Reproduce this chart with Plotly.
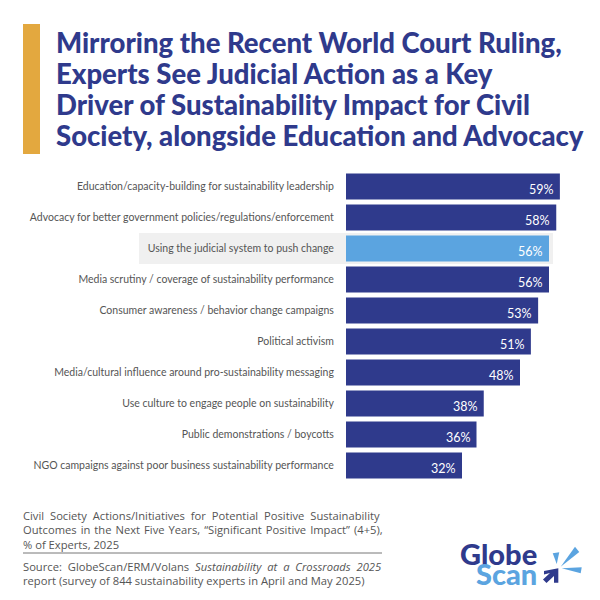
import plotly.graph_objects as go

# Valores
categories = [
    "Education/capacity-building for sustainability leadership",
    "Advocacy for better government policies/regulations/enforcement",
    "Using the judicial system to push change",
    "Media scrutiny / coverage of sustainability performance",
    "Consumer awareness / behavior change campaigns",
    "Political activism",
    "Media/cultural influence around pro-sustainability messaging",
    "Use culture to engage people on sustainability",
    "Public demonstrations / boycotts",
    "NGO campaigns against poor business sustainability performance",
]
values = [59, 58, 56, 56, 53, 51, 48, 38, 36, 32]
highlight = "Using the judicial system to push change"

title_lines = [
    "Mirroring the Recent World Court Ruling,",
    "Experts See Judicial Action as a Key",
    "Driver of Sustainability Impact for Civil",
    "Society, alongside Education and Advocacy",
]
# Espaços finos para imitar o texto justificado do original
note_lines = [
    "Civil Society Actions/Initiatives for Potential Positive Sustainability".replace(" ", " \u2009\u200a"),
    "Outcomes in the Next Five Years, “Significant Positive Impact” (4+5),".replace(" ", " \u200a"),
    "% of Experts, 2025",
]
source_lines = [
    "Source: GlobeScan/ERM/Volans <i>Sustainability at a Crossroads 2025</i>".replace(" ", " \u2009\u200a"),
    "report (survey of 844 sustainability experts in April and May 2025)",
]

NAVY = "#2F3A8C"
BLUE = "#5BA4E0"
GOLD = "#E3A83F"
GRAY = "#555555"

# A página tem margem de 8px no body, então a figura fica menor e deslocada
SIZE = 592
OFFSET = 8


# Converte pixels da imagem para coordenadas "paper"
def px(x):
    return (x - OFFSET) / SIZE


def py(y):
    return 1 - (y - OFFSET) / SIZE


def path(points):
    return "M " + " L ".join(f"{px(x):.4f},{py(y):.4f}" for x, y in points) + " Z"


fig = go.Figure()
fig.add_trace(go.Bar(
    x=values,
    y=categories,
    orientation="h",
    marker_color=[BLUE if c == highlight else NAVY for c in categories],
    marker_line_width=0,
    hoverinfo="skip",
))

fig.update_layout(
    width=SIZE,
    height=SIZE,
    margin=dict(l=0, r=0, t=0, b=0),
    paper_bgcolor="white",
    plot_bgcolor="rgba(0,0,0,0)",
    showlegend=False,
    bargap=0.16,
)
fig.update_xaxes(domain=[px(346), 1], range=[0, 254 / 3.625], visible=False)
fig.update_yaxes(
    domain=[py(481), py(171)],
    autorange="reversed",
    ticks="outside",
    ticklen=9,
    tickcolor="rgba(0,0,0,0)",
    showline=False,
    showgrid=False,
    tickfont=dict(family="Lato", size=10.5, color=GRAY),
)

# Faixa cinza atrás da linha destacada
row = categories.index(highlight)
fig.add_shape(type="rect", xref="paper", yref="y", x0=px(139), x1=px(553), y0=row - 0.5, y1=row + 0.5,
              fillcolor="#F0F0F0", line_width=0, layer="below")

# Barra dourada do título
fig.add_shape(type="rect", xref="paper", yref="paper", x0=px(23), x1=px(40), y0=py(154), y1=py(24),
              fillcolor=GOLD, line_width=0)

# Linha entre a nota e a fonte
fig.add_shape(type="line", xref="paper", yref="paper", x0=px(23), x1=px(382), y0=py(553), y1=py(553),
              line=dict(color="#777777", width=1))

# Rótulos de valor
for c, v in zip(categories, values):
    fig.add_annotation(x=v, y=c, text=f"{v}%", showarrow=False, xanchor="right", xshift=-4, yshift=-3,
                       font=dict(family="Lato", size=12.5, color="white"))

for i, line in enumerate(title_lines):
    fig.add_annotation(xref="paper", yref="paper", x=px(54), y=py(42 + i * 31.3), text=line, showarrow=False,
                       xanchor="left", yanchor="middle",
                       font=dict(family="Lato", size=27.5, color=NAVY, weight=900))

for i, line in enumerate(note_lines):
    fig.add_annotation(xref="paper", yref="paper", x=px(21), y=py(515 + i * 14.5), text=line, showarrow=False,
                       xanchor="left", yanchor="middle",
                       font=dict(family="Open Sans", size=11.2, color=GRAY))

for i, line in enumerate(source_lines):
    fig.add_annotation(xref="paper", yref="paper", x=px(21), y=py(566 + i * 14.5), text=line, showarrow=False,
                       xanchor="left", yanchor="middle",
                       font=dict(family="Open Sans", size=11.2, color=GRAY))

# Logo
fig.add_annotation(xref="paper", yref="paper", x=px(539), y=py(553), text="Globe", showarrow=False,
                   xanchor="right", yanchor="middle", font=dict(family="Lato", size=29, color=NAVY, weight=900))
fig.add_annotation(xref="paper", yref="paper", x=px(539), y=py(573), text="Scan", showarrow=False,
                   xanchor="right", yanchor="middle", font=dict(family="Lato", size=29, color=BLUE, weight=900))
for pts, color in [
    ([(552.7, 553.3), (559.3, 552.3), (556.7, 564)], BLUE),
    ([(575, 546.7), (579.3, 552), (560.7, 566.7)], BLUE),
    ([(561.7, 568.3), (581.7, 567.3), (580.7, 573.3)], BLUE),
    ([(544, 571), (558.3, 568.3), (558.3, 582.7), (554, 582.7), (554, 576), (546.5, 583), (543, 579.5), (550, 573), (544, 574.5)], NAVY),
]:
    fig.add_shape(type="path", xref="paper", yref="paper", path=path(pts), fillcolor=color, line_width=0)

fig.write_html("out.html")
